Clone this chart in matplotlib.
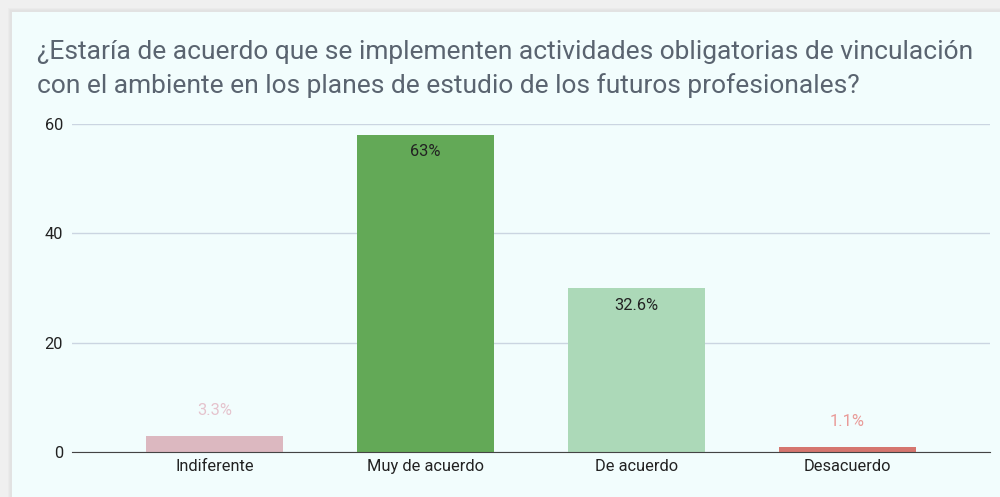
import matplotlib.pyplot as plt
from matplotlib.patches import Rectangle

categorias = ["Indiferente", "Muy de acuerdo", "De acuerdo", "Desacuerdo"]
respuestas = [3, 58, 30, 1]
porcentajes = ["3.3%", "63%", "32.6%", "1.1%"]
colores = ["#dcb8c0", "#63a957", "#acd9b8", "#d5766f"]
colores_etiqueta = ["#e5c3cd", "#222222", "#222222", "#e99a97"]
titulo = ("¿Estaría de acuerdo que se implementen actividades obligatorias de vinculación\n"
          "con el ambiente en los planes de estudio de los futuros profesionales?")

plt.rcParams['font.family'] = ['Roboto', 'DejaVu Sans']

fig = plt.figure(figsize=(10, 4.97), dpi=100)
fig.patch.set_facecolor("#f0f0f0")

# tarjeta de fondo con sombra suave
W, H = 1000, 497
for k, c in enumerate(["#ebebeb", "#e6e6e6", "#e2e2e2"]):
    d = 4 - k
    fig.patches.append(Rectangle(((12 - d) / W, -0.1), 1.2, 1.1 - (12 - d) / H,
                                 transform=fig.transFigure, facecolor=c,
                                 edgecolor="none", zorder=-2))
fig.patches.append(Rectangle((12 / W, -0.1), 1.2, 1.1 - 12 / H,
                             transform=fig.transFigure, facecolor="#f2fdfd",
                             edgecolor="none", zorder=-1))

ax = fig.add_axes([0.072, 45 / 497, 0.918, (452 - 124) / 497])
ax.set_facecolor("none")
ax.set_zorder(2)

x = range(len(categorias))
barras = ax.bar(x, respuestas, width=0.65, color=colores, zorder=3)

ax.set_xlim(-0.675, 3.675)
ax.set_ylim(0, 60)
ax.set_yticks([0, 20, 40, 60])
ax.set_xticks(list(x))
ax.set_xticklabels(categorias)
ax.tick_params(axis="both", length=0, labelsize=11.8, colors="#222222")
ax.tick_params(axis="x", pad=5)
ax.tick_params(axis="y", pad=6.5)
ax.grid(axis="y", color="#cbd5e1", linewidth=1, zorder=0)
for s in ["top", "right", "left"]:
    ax.spines[s].set_visible(False)
ax.spines["bottom"].set_color("#444444")
ax.spines["bottom"].set_zorder(4)

for i, (b, p) in enumerate(zip(barras, porcentajes)):
    h = b.get_height()
    desplazamiento = -17 if h > 10 else 25
    ax.annotate(p, (b.get_x() + b.get_width() / 2, h), xytext=(0, desplazamiento),
                textcoords="offset pixels", ha="center", va="center",
                fontsize=11.8, color=colores_etiqueta[i], zorder=5)

fig.text(0.037, 1 - 69 / 497, titulo, fontsize=19, color="#5a6470",
         ha="left", va="center", linespacing=1.42, zorder=3)

fig.savefig("out.png", dpi=100, facecolor=fig.get_facecolor())
